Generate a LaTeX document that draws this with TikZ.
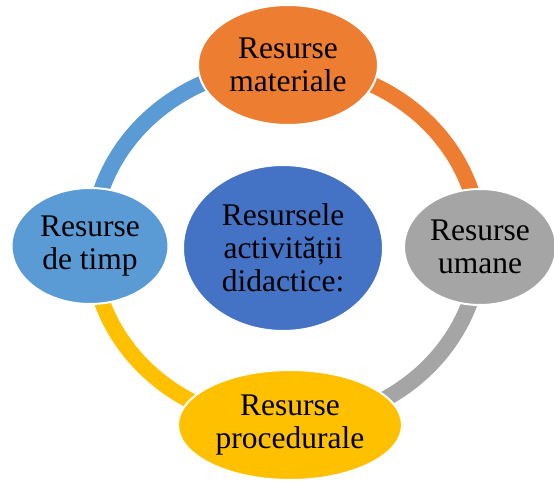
\documentclass[tikz,border=0pt]{standalone}
\usepackage{fontspec}
\setmainfont{Liberation Serif}
\usetikzlibrary{shapes.geometric}
\definecolor{cOrange}{HTML}{ED7D31}
\definecolor{cGray}{HTML}{A5A5A5}
\definecolor{cGold}{HTML}{FFC000}
\definecolor{cBlue}{HTML}{5B9BD5}
\definecolor{cDark}{HTML}{4472C4}
\tikzset{
  bubble/.style={ellipse, draw=white, line width=2pt, inner sep=0pt, align=center,
    font=\fontsize{31.5}{33}\selectfont, text=black},
  ring/.style={line width=16pt}
}
\begin{document}
\begin{tikzpicture}[x=1pt,y=1pt]
\useasboundingbox (0,0) rectangle (554,480);
\clip (0,0) rectangle (554,480);
\coordinate (ringc) at (286,235);
% ring segments
\draw[ring, cOrange] (ringc) ++(194,0) arc[start angle=0, end angle=90, x radius=194, y radius=179];
\draw[ring, cBlue] (ringc) ++(0,179) arc[start angle=90, end angle=180, x radius=194, y radius=179];
\draw[ring, cGold] (ringc) ++(-194,0) arc[start angle=180, end angle=270, x radius=194, y radius=179];
\draw[ring, cGray] (ringc) ++(0,-179) arc[start angle=270, end angle=360, x radius=194, y radius=179];
% nodes
\node[bubble, fill=cDark, minimum width=200pt, minimum height=166pt] (center) at (283,232) {Resursele\\activității\\didactice:};
\node[bubble, fill=cOrange, minimum width=180pt, minimum height=120pt] (mat) at (288,415) {Resurse\\materiale};
\node[bubble, fill=cGray, minimum width=152pt, minimum height=116pt] (uman) at (480,233) {Resurse\\umane};
\node[bubble, fill=cGold, minimum width=224pt, minimum height=110pt] (proc) at (290,55) {Resurse\\procedurale};
\node[bubble, fill=cBlue, minimum width=157pt, minimum height=116pt] (timp) at (90,234) {Resurse\\de timp};
\end{tikzpicture}
\end{document}
